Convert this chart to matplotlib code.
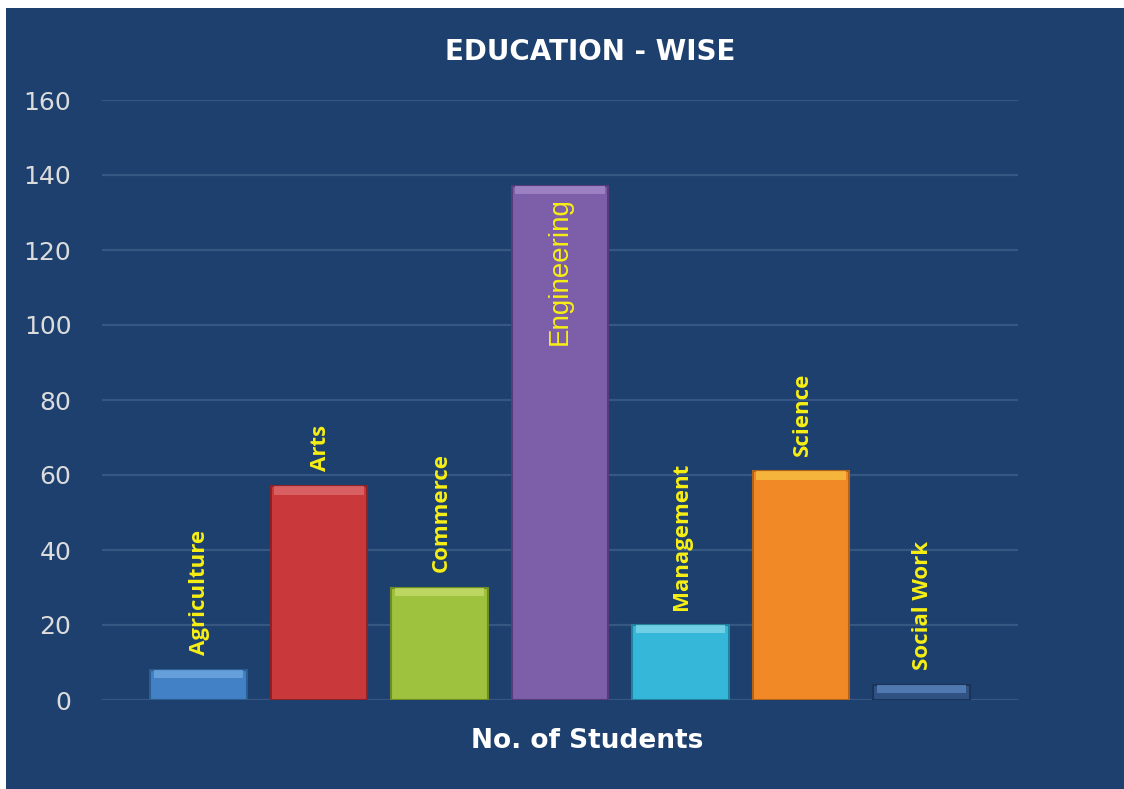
import matplotlib.pyplot as plt
from matplotlib.patches import Rectangle

categories = ["Agriculture", "Arts", "Commerce", "Engineering", "Management", "Science", "Social Work"]
students = [8, 57, 30, 137, 20, 61, 4]
colors = ["#4281c6", "#c9393b", "#9ec23e", "#7d5ea9", "#35b7da", "#f18a26", "#2f5283"]
edges = ["#2c5d93", "#8e2327", "#6f8c25", "#553d7b", "#2183a0", "#b5621a", "#1b3458"]
tops = ["#6fa8e0", "#dc6a6e", "#c4dc6a", "#a48bc9", "#7fd6e8", "#f7c042", "#5a83bd"]
yticks = [0, 20, 40, 60, 80, 100, 120, 140, 160]

bg = "#1d406e"
fig = plt.figure(figsize=(11.24, 7.89), dpi=100, facecolor="white")
# dark panel, leaves a thin white margin at left and top
fig.patches.append(Rectangle((6 / 1124, 0), 1, 1 - 8 / 789, transform=fig.transFigure,
                             facecolor=bg, edgecolor="none", zorder=-1))

ax = fig.add_axes([102 / 1124, 1 - 700 / 789, 916 / 1124, 600 / 789])
ax.set_facecolor(bg)
x = list(range(len(categories)))
ax.bar(x, students, width=0.8, color=colors, edgecolor=edges, linewidth=1.5, zorder=3)
# lighter bevel strip along the top of each bar
band = 2.2
ax.bar(x, [band] * len(students), bottom=[v - band for v in students], width=0.74,
       color=tops, alpha=0.8, linewidth=0, zorder=3.5)

ax.set_xlim(-0.8, 6.8)
ax.set_ylim(0, 160)
ax.set_yticks(yticks)
ax.set_xticks([])
ax.tick_params(axis="y", length=0, pad=22, labelsize=18, labelcolor="#dcdcdc")
ax.grid(axis="y", color="#365781", linewidth=1.6, zorder=0)
for s in ax.spines.values():
    s.set_visible(False)

for i, (name, v) in enumerate(zip(categories, students)):
    if name == "Engineering":
        ax.annotate(name, (i, v), xytext=(0, -8), textcoords="offset points",
                    rotation=90, ha="center", va="top", color="#f8ef12",
                    fontsize=20, family="Liberation Sans", zorder=4)
    else:
        ax.annotate(name, (i, v), xytext=(1, 11), textcoords="offset points",
                    rotation=90, ha="center", va="bottom", color="#f8ef12",
                    fontsize=16, family="Open Sans", fontweight="bold", zorder=4)

fig.text(590 / 1124, 1 - 52 / 789, "EDUCATION - WISE", ha="center", va="center",
         color="white", fontsize=20, fontweight="bold")
fig.text(587 / 1124, 1 - 741 / 789, "No. of Students", ha="center", va="center",
         color="white", fontsize=19, fontweight="bold")

fig.savefig("out.png", dpi=100, facecolor=fig.get_facecolor())
